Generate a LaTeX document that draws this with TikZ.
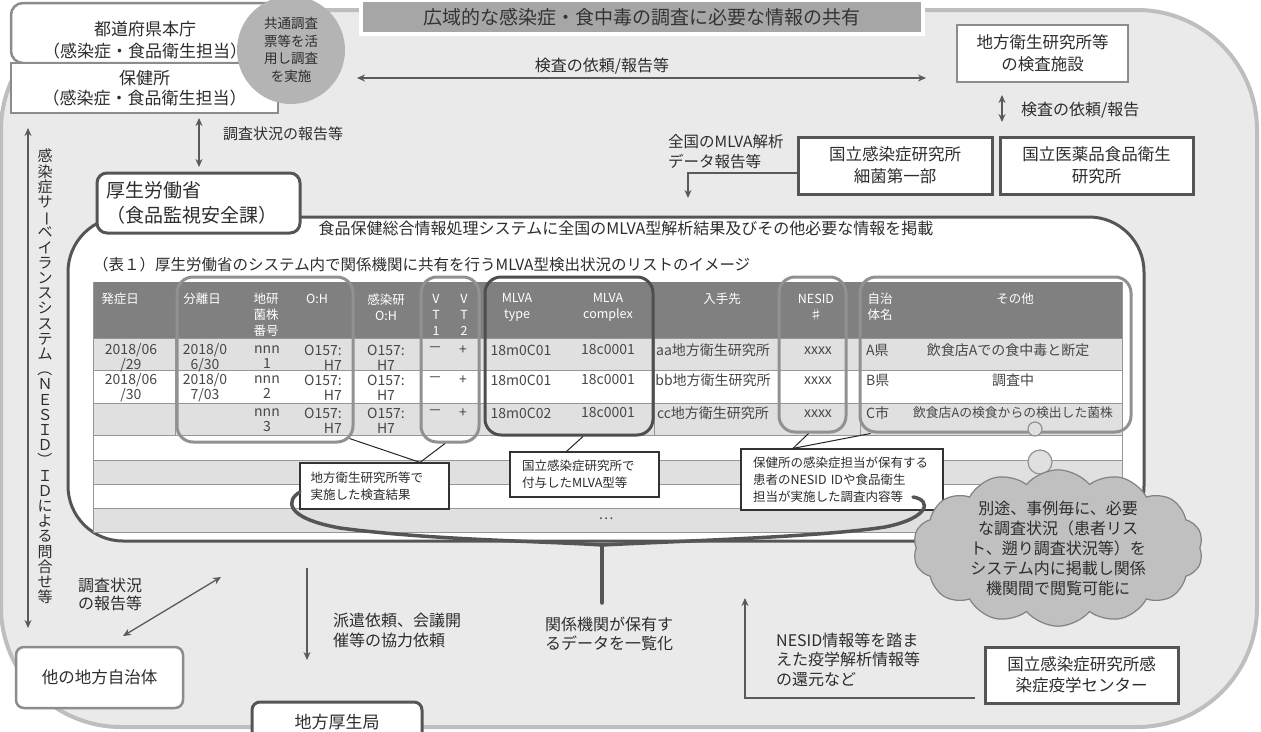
\documentclass[tikz,border=0pt]{standalone}
\usepackage{fontspec}
\setmainfont{Noto Sans CJK JP}
\usepackage{graphicx}
\usetikzlibrary{arrows.meta,shapes.symbols,shapes.geometric}
\definecolor{bgc}{RGB}{234,234,234}
\definecolor{outerc}{RGB}{190,190,190}
\definecolor{lboxc}{RGB}{140,140,140}
\definecolor{dboxc}{RGB}{85,85,85}
\definecolor{bannerc}{RGB}{166,166,166}
\definecolor{hdrc}{RGB}{128,128,128}
\definecolor{rowg}{RGB}{224,224,224}
\definecolor{hlc}{RGB}{145,145,145}
\definecolor{hld}{RGB}{78,78,78}
\definecolor{circc}{RGB}{180,180,180}
\definecolor{cloudc}{RGB}{192,192,192}
\definecolor{cloudd}{RGB}{130,130,130}
\definecolor{txt}{RGB}{45,45,45}
\definecolor{arrc}{RGB}{90,90,90}
\definecolor{gridc}{RGB}{150,150,150}
\newcommand\fs[2]{\fontsize{#1}{#2}\selectfont}
\begin{document}
\begin{tikzpicture}[x=1pt,y=-1pt,
  every node/.style={text=txt},
  lb/.style={draw=lboxc, line width=2.5pt, fill=white, align=center, inner sep=0pt},
  db/.style={draw=dboxc, line width=3pt, fill=white, align=center, inner sep=0pt},
  lbl/.style={align=left, inner sep=0pt, font=\fs{16}{21}},
  arr/.style={draw=arrc, line width=1.3pt, -{Stealth[length=8pt,width=7pt]}},
  dbl/.style={draw=arrc, line width=1.3pt, {Stealth[length=8pt,width=7pt]}-{Stealth[length=8pt,width=7pt]}},
  hl/.style={draw=hlc, line width=3pt, rounded corners=16pt, inner sep=0pt},
  co/.style={draw=black!80, line width=1.2pt, fill=white, inner sep=0pt, align=left, font=\fs{12.5}{17}},
  cl/.style={draw=black!85, line width=1pt},
  th/.style={text=white, font=\fs{12.5}{16}, align=center, inner sep=0pt},
  td/.style={font=\fs{14}{15}, align=center, inner sep=0pt, text=black!72},
  brc/.style={draw=dboxc, line width=3.5pt, line cap=round}
]
\useasboundingbox (0,0) rectangle (1261,731);
\fill[white] (0,0) rectangle (1261,731);
\draw[draw=outerc, line width=4pt, fill=bgc, rounded corners=120pt] (1,10) rectangle (1257,727);

% left vertical arrow and text
\coordinate (v1) at (28,128);
\coordinate (v2) at (28,628);
\draw[dbl] (v1) -- (v2);
\node[inner sep=0pt, align=center, font=\fs{15}{15.2}, anchor=north] (vtext) at (45,149)
 {感\\染\\症\\サ\\\rotatebox[origin=c]{-90}{ー}\\ベ\\イ\\ラ\\ン\\ス\\シ\\ス\\テ\\ム\\\rotatebox[origin=c]{-90}{（}\\Ｎ\\Ｅ\\Ｓ\\Ｉ\\Ｄ\\\rotatebox[origin=c]{-90}{）}\\Ｉ\\Ｄ\\に\\よ\\る\\問\\合\\せ\\等};

% title banner
\node[fill=bannerc, draw=white, line width=4pt, minimum width=562pt, minimum height=34pt, inner sep=0pt, font=\fs{19}{24}, text=black!80] (title) at (642,17) {広域的な感染症・食中毒の調査に必要な情報の共有};

% top-left boxes
\node[lb, minimum width=267pt, minimum height=60pt, rounded corners=12pt] (honcho) at (144.5,33) {};
\node[inner sep=0pt, align=center, font=\fs{17}{22}] (honchot) at (145,40) {都道府県本庁\\（感染症・食品衛生担当）};
\node[lb, minimum width=267pt, minimum height=50pt, font=\fs{17}{20}] (hokenjo) at (144.5,88) {保健所\\（感染症・食品衛生担当）};
\node[circle, fill=circc, minimum size=108pt, inner sep=0pt, align=center, font=\fs{13.5}{17.5}] (kyotsu) at (291,50) {共通調査\\票等を活\\用し調査\\を実施};

% top arrow
\coordinate (t1) at (357,78);
\coordinate (t2) at (926,78);
\draw[dbl] (t1) -- (t2);
\node[lbl] (tlab) at (602,66) {検査の依頼/報告等};

% right top boxes
\node[lb, minimum width=171pt, minimum height=57pt, font=\fs{16.5}{22}] (kiken) at (1042.5,53.5) {地方衛生研究所等\\の検査施設};
\coordinate (k1) at (1002,95);
\coordinate (k2) at (1002,122);
\draw[dbl] (k1) -- (k2);
\node[lbl, anchor=west] (klab) at (1021,110) {検査の依頼/報告};
\node[db, minimum width=193pt, minimum height=57pt, font=\fs{16.5}{22}] (nihs) at (1096.5,165.5) {国立医薬品食品衛生\\研究所};
\node[db, minimum width=194pt, minimum height=57pt, font=\fs{16.5}{22}] (niid) at (895,165.5) {国立感染症研究所\\細菌第一部};
\node[lbl, anchor=west, font=\fs{15.5}{20}] (mlvalab) at (668,152) {全国のMLVA解析\\データ報告等};
\coordinate (m1) at (688,198);
\draw[arr] ([yshift=-7.5pt]niid.west) -| (m1);

% hokenjo - MHLW arrow
\coordinate (h1) at (199,118);
\coordinate (h2) at (199,167);
\draw[dbl] (h1) -- (h2);
\node[lbl, anchor=west, font=\fs{15}{20}] (hlab) at (223,134) {調査状況の報告等};

% system rounded rectangle
\draw[draw=dboxc, line width=3pt, fill=white, rounded corners=55pt] (68,217) rectangle (1144,541);
\node[db, rounded corners=10pt, minimum width=203pt, minimum height=60pt, text width=185pt, align=left, font=\fs{19}{25}] (mhlw) at (198.5,203) {厚生労働省\\（食品監視安全課）};
\node[inner sep=0pt, font=\fs{16}{20}] (systxt) at (626,228) {食品保健総合情報処理システムに全国のMLVA型解析結果及びその他必要な情報を掲載};
\node[inner sep=0pt, anchor=west, font=\fs{15.5}{20}] (tabtitle) at (93,265) {（表１）厚生労働省のシステム内で関係機関に共有を行うMLVA型検出状況のリストのイメージ};

% table
\fill[hdrc] (93,282) rectangle (1122,338);
\foreach \a/\b in {338/370,403/435,460/484,508/532} \fill[rowg] (93,\a) rectangle (1122,\b);
\foreach \y in {338,370,403,435,460,484,508,532} \draw[gridc, line width=1pt] (93,\y) -- (1122,\y);
\draw[gridc, line width=1pt] (93,282) -- (93,532) (1122,282) -- (1122,532);
\foreach \x in {175,654,860} \draw[gridc, line width=1pt] (\x,338) -- (\x,435);

\node[th] (h01) at (120,299) {発症日};
\node[th] (h02) at (202,299) {分離日};
\node[th] (h03) at (266,315) {地研\\菌株\\番号};
\node[th] (h04) at (317,299) {O:H};
\node[th] (h05) at (386,307) {感染研\\O:H};
\node[th] (h06) at (436,315) {V\\T\\1};
\node[th] (h07) at (464,315) {V\\T\\2};
\node[th] (h08) at (517,307) {MLVA\\type};
\node[th] (h09) at (608,307) {MLVA\\complex};
\node[th] (h10) at (722,299) {入手先};
\node[th] (h11) at (816,307) {NESID\\♯};
\node[th] (h12) at (880,307) {自治\\体名};
\node[th] (h13) at (1015,299) {その他};

% row 1
\node[td] (r11) at (131,357.5) {2018/06\\/29};
\node[td] (r12) at (205,357.5) {2018/0\\6/30};
\node[td] (r13) at (267,357.5) {nnn\\1};
\node[td, align=right] (r14) at (323,357.5) {O157:\\H7};
\node[td] (r15) at (386,357.5) {O157:\\H7};
\node[td] (r16) at (435,350) {－};
\node[td] (r17) at (463,350) {+};
\node[td] (r18) at (521,350) {18m0C01};
\node[td] (r19) at (608,350) {18c0001};
\node[td] (r1a) at (713,350) {aa地方衛生研究所};
\node[td] (r1b) at (818,351) {xxxx};
\node[td, anchor=west] (r1c) at (866,350) {A県};
\node[td] (r1d) at (1008,350) {飲食店Aでの食中毒と断定};
% row 2
\node[td] (r21) at (131,387.5) {2018/06\\/30};
\node[td] (r22) at (205,387.5) {2018/0\\7/03};
\node[td] (r23) at (267,387.5) {nnn\\2};
\node[td, align=right] (r24) at (323,387.5) {O157:\\H7};
\node[td] (r25) at (386,387.5) {O157:\\H7};
\node[td] (r26) at (435,380) {－};
\node[td] (r27) at (463,380) {+};
\node[td] (r28) at (521,380) {18m0C01};
\node[td] (r29) at (608,380) {18c0001};
\node[td] (r2a) at (713,380) {bb地方衛生研究所};
\node[td] (r2b) at (818,381) {xxxx};
\node[td, anchor=west] (r2c) at (866,380) {B県};
\node[td] (r2d) at (1013,380) {調査中};
% row 3
\node[td] (r33) at (267,420.5) {nnn\\3};
\node[td, align=right] (r34) at (323,420.5) {O157:\\H7};
\node[td] (r35) at (386,420.5) {O157:\\H7};
\node[td] (r36) at (435,413) {－};
\node[td] (r37) at (463,413) {+};
\node[td] (r38) at (521,413) {18m0C02};
\node[td] (r39) at (608,413) {18c0001};
\node[td] (r3a) at (713,413) {cc地方衛生研究所};
\node[td] (r3b) at (818,414) {xxxx};
\node[td, anchor=west] (r3c) at (866,413) {C市};
\node[td, font=\fs{12.8}{15}] (r3d) at (1013,413) {飲食店Aの検食からの検出した菌株};
\node[td] (dots) at (606,519) {…};

% highlight rectangles
\node[hl, minimum width=176pt, minimum height=165pt] (hA) at (265,359.5) {};
\node[hl, minimum width=58pt, minimum height=165pt] (hB) at (450,359.5) {};
\node[hl, draw=hld, minimum width=168pt, minimum height=158pt] (hC) at (569,356) {};
\node[hl, minimum width=67pt, minimum height=155pt] (hD) at (812.5,354.5) {};
\node[hl, minimum width=271pt, minimum height=155pt] (hE) at (995.5,354.5) {};

% callouts
\node[co, minimum width=149pt, minimum height=46pt, text width=128pt] (cA) at (374.5,486) {地方衛生研究所等で\\実施した検査結果};
\node[co, minimum width=149pt, minimum height=45pt, text width=125pt] (cB) at (584.5,474.5) {国立感染症研究所で\\付与したMLVA型等};
\node[co, minimum width=202pt, minimum height=61pt, text width=178pt] (cC) at (842,479.5) {保健所の感染症担当が保有する\\患者のNESID IDや食品衛生\\担当が実施した調査内容等};
\draw[cl] ([xshift=-5pt,yshift=5pt]hA.south east) -- ([xshift=45.5pt]cA.north);
\draw[cl] ([xshift=-5pt]hB.south) -- ([xshift=45.5pt]cA.north);
\draw[cl] ([xshift=-18pt]cB.north) -- ([xshift=14pt]hC.south);
\draw[cl] ([xshift=-4pt]hD.south) -- ([xshift=-49pt]cC.north);
\draw[cl] ([xshift=-125pt]hE.south) -- ([xshift=-49pt]cC.north);

% brace
\draw[brc] (300,492) .. controls (286,500) and (284,518) .. (340,528) .. controls (430,540) and (540,541) .. (602,545) .. controls (680,541) and (820,537) .. (885,527) .. controls (930,518) and (932,500) .. (913,497);
\coordinate (st0) at (602,545);
\coordinate (st) at (602,603);
\draw[brc] (st0) -- (st);
\node[lbl, anchor=west, font=\fs{16}{19.5}] (kankei) at (545,634) {関係機関が保有す\\るデータを一覧化};

% bubbles and cloud
\node[circle, draw=hlc, fill=rowg, line width=1.2pt, minimum size=14pt, inner sep=0pt] (b1) at (1035,429) {};
\node[circle, draw=hlc, fill=rowg, line width=1.2pt, minimum size=24pt, inner sep=0pt] (b2) at (1040,462) {};
\node[cloud, cloud puffs=14, cloud puff arc=100, cloud ignores aspect, draw=cloudd, fill=cloudc, line width=1.2pt, minimum width=290pt, minimum height=140pt, inner sep=0pt, align=center, font=\fs{16}{20}] (cloud) at (1058,548) {別途、事例毎に、必要\\な調査状況（患者リス\\ト、遡り調査状況等）を\\システム内に掲載し関係\\機関間で閲覧可能に};

% bottom left
\node[lbl, anchor=west, font=\fs{16}{18}] (bl1) at (78,594) {調査状況\\の報告等};
\coordinate (d1) at (221,577);
\coordinate (d2) at (123,636);
\draw[dbl] (d1) -- (d2);
\node[lb, rounded corners=8pt, minimum width=167pt, minimum height=61pt, font=\fs{16.5}{20}] (other) at (99.5,677.5) {他の地方自治体};

\coordinate (p1) at (307,568);
\coordinate (p2) at (307,660);
\draw[arr] (p1) -- (p2);
\node[lbl, anchor=west, font=\fs{16}{20}] (haken) at (333,630) {派遣依頼、会議開\\催等の協力依頼};
\node[db, rounded corners=8pt, minimum width=170pt, minimum height=40pt, font=\fs{17}{20}] (kosei) at (337,722) {地方厚生局};

% bottom right
\node[db, minimum width=193pt, minimum height=56pt, font=\fs{16.5}{21}] (eid) at (1081.5,675) {国立感染症研究所感\\染症疫学センター};
\coordinate (e1) at (975,698);
\coordinate (e2) at (745,598);
\draw[arr] (e1) -| (e2);
\node[lbl, anchor=west, font=\fs{16}{19.5}] (nesidlab) at (776,659.5) {NESID情報等を踏ま\\えた疫学解析情報等\\の還元など};
\end{tikzpicture}
\end{document}
